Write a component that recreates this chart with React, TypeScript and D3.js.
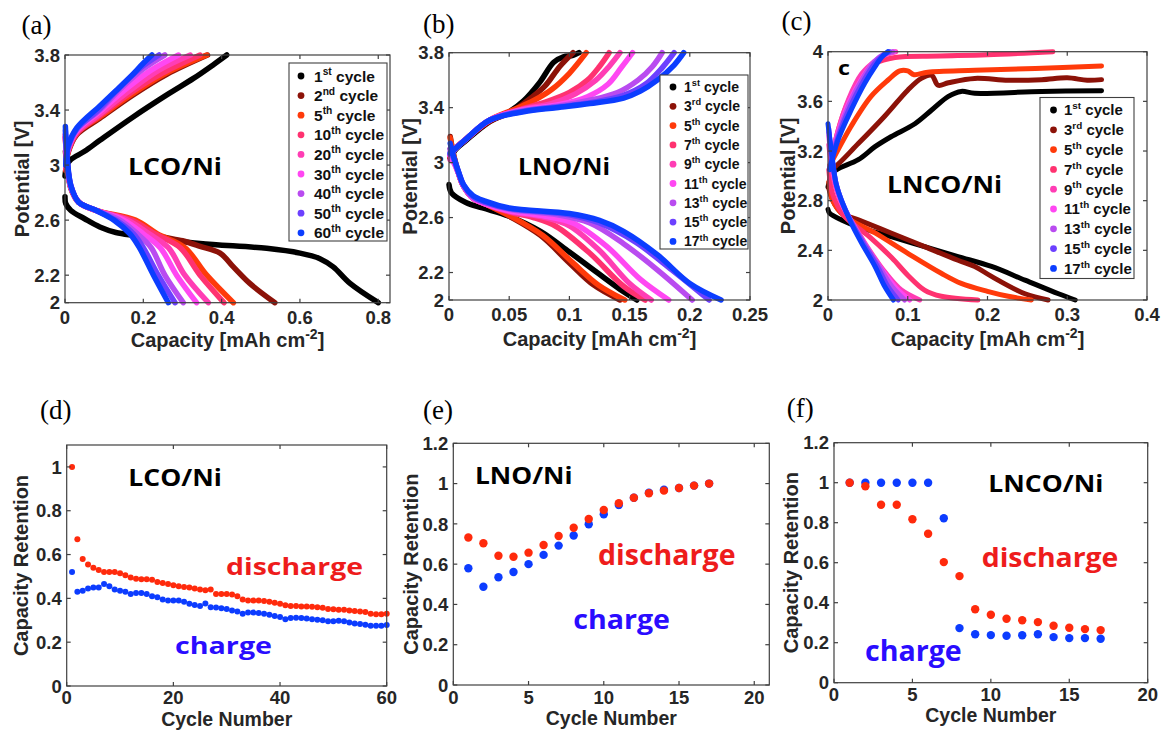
import React from "react";
import * as d3 from "d3";

type Pt = [number, number];

// ---------- colours ----------
const cycleColors = ["#000000", "#8c1208", "#ff3a0a", "#ff3270", "#ff3db4", "#ff47f2", "#b94bf0", "#6c40ff", "#0c3dff"];
const retDischargeColor = "#ff2a0c";
const retChargeColor = "#0c3cff";

// ---------- (a) LCO/Ni voltage profiles ----------
const lcoCycles = ["1st", "2nd", "5th", "10th", "20th", "30th", "40th", "50th", "60th"];
const lcoCharge: Pt[][] = [
  [[0, 2.92], [0.005, 3.0], [0.015, 3.04], [0.05, 3.1], [0.089, 3.18], [0.174, 3.35], [0.26, 3.51], [0.328, 3.63], [0.379, 3.73], [0.413, 3.8]],
  [[0.002, 2.98], [0.008, 3.09], [0.03, 3.22], [0.089, 3.34], [0.174, 3.51], [0.26, 3.66], [0.364, 3.8]],
  [[0.002, 2.96], [0.008, 3.1], [0.03, 3.23], [0.089, 3.35], [0.174, 3.52], [0.26, 3.67], [0.362, 3.8]],
  [[0.002, 2.97], [0.008, 3.1], [0.03, 3.23], [0.089, 3.36], [0.17, 3.53], [0.25, 3.67], [0.345, 3.8]],
  [[0.002, 2.99], [0.008, 3.11], [0.03, 3.24], [0.089, 3.37], [0.16, 3.53], [0.24, 3.69], [0.32, 3.8]],
  [[0.002, 3.0], [0.008, 3.12], [0.03, 3.25], [0.089, 3.39], [0.15, 3.54], [0.22, 3.69], [0.29, 3.8]],
  [[0.002, 3.0], [0.008, 3.12], [0.03, 3.26], [0.089, 3.4], [0.14, 3.55], [0.2, 3.7], [0.255, 3.8]],
  [[0.002, 3.0], [0.008, 3.13], [0.03, 3.26], [0.089, 3.41], [0.135, 3.55], [0.19, 3.7], [0.24, 3.8]],
  [[0.002, 3.0], [0.008, 3.14], [0.03, 3.27], [0.089, 3.43], [0.13, 3.54], [0.17, 3.65], [0.2, 3.74], [0.222, 3.8]],
];
const lcoDischarge: Pt[][] = [
  [[0, 2.77], [0.002, 2.72], [0.015, 2.67], [0.05, 2.61], [0.089, 2.55], [0.13, 2.51], [0.174, 2.49], [0.234, 2.47], [0.345, 2.43], [0.515, 2.395], [0.6, 2.36], [0.651, 2.32], [0.685, 2.26], [0.728, 2.14], [0.8, 2.0]],
  [[0.001, 3.1], [0.006, 2.98], [0.015, 2.83], [0.035, 2.73], [0.1, 2.65], [0.18, 2.56], [0.234, 2.49], [0.3, 2.45], [0.345, 2.41], [0.396, 2.36], [0.43, 2.26], [0.472, 2.14], [0.536, 2.0]],
  [[0.001, 3.2], [0.006, 3.0], [0.015, 2.84], [0.035, 2.73], [0.08, 2.67], [0.18, 2.6], [0.236, 2.5], [0.306, 2.4], [0.362, 2.2], [0.43, 2.0]],
  [[0.001, 3.22], [0.006, 3.0], [0.015, 2.84], [0.035, 2.73], [0.08, 2.67], [0.17, 2.6], [0.23, 2.5], [0.294, 2.4], [0.345, 2.2], [0.406, 2.0]],
  [[0.001, 3.2], [0.006, 3.0], [0.015, 2.84], [0.035, 2.73], [0.08, 2.67], [0.16, 2.6], [0.215, 2.5], [0.264, 2.4], [0.306, 2.2], [0.366, 2.0]],
  [[0.001, 3.2], [0.006, 3.0], [0.015, 2.84], [0.035, 2.73], [0.08, 2.67], [0.15, 2.6], [0.2, 2.5], [0.243, 2.4], [0.285, 2.2], [0.336, 2.0]],
  [[0.001, 3.22], [0.006, 3.01], [0.015, 2.85], [0.035, 2.73], [0.08, 2.67], [0.14, 2.6], [0.185, 2.5], [0.22, 2.4], [0.255, 2.2], [0.302, 2.0]],
  [[0.001, 3.25], [0.006, 3.02], [0.015, 2.85], [0.035, 2.73], [0.08, 2.67], [0.13, 2.6], [0.175, 2.5], [0.2, 2.4], [0.238, 2.2], [0.281, 2.0]],
  [[0.001, 3.28], [0.006, 3.04], [0.015, 2.85], [0.035, 2.73], [0.08, 2.67], [0.125, 2.6], [0.166, 2.5], [0.19, 2.4], [0.226, 2.2], [0.264, 2.0]],
];

// ---------- (b) LNO/Ni voltage profiles ----------
const lnoCycles = ["1st", "3rd", "5th", "7th", "9th", "11th", "13th", "15th", "17th"];
const lnoCharge: Pt[][] = [
  [[0.001, 3.03], [0.005, 3.09], [0.014, 3.16], [0.034, 3.3], [0.05, 3.37], [0.062, 3.45], [0.075, 3.58], [0.087, 3.73], [0.095, 3.77], [0.103, 3.78], [0.108, 3.8]],
  [[0.001, 3.04], [0.005, 3.1], [0.014, 3.17], [0.034, 3.3], [0.052, 3.37], [0.068, 3.47], [0.08, 3.56], [0.092, 3.7], [0.103, 3.8]],
  [[0.001, 3.04], [0.005, 3.1], [0.014, 3.17], [0.034, 3.31], [0.055, 3.39], [0.07, 3.45], [0.085, 3.53], [0.1, 3.65], [0.114, 3.8]],
  [[0.001, 3.05], [0.005, 3.1], [0.014, 3.17], [0.034, 3.31], [0.06, 3.39], [0.08, 3.44], [0.1, 3.51], [0.115, 3.6], [0.125, 3.7], [0.133, 3.8]],
  [[0.001, 3.05], [0.005, 3.1], [0.014, 3.17], [0.034, 3.31], [0.06, 3.385], [0.085, 3.43], [0.105, 3.5], [0.122, 3.6], [0.133, 3.7], [0.142, 3.8]],
  [[0.001, 3.05], [0.005, 3.1], [0.014, 3.17], [0.034, 3.31], [0.062, 3.385], [0.09, 3.42], [0.115, 3.48], [0.132, 3.57], [0.143, 3.69], [0.1525, 3.8]],
  [[0.001, 3.06], [0.005, 3.1], [0.014, 3.17], [0.034, 3.31], [0.062, 3.38], [0.09, 3.41], [0.115, 3.45], [0.14, 3.51], [0.157, 3.6], [0.169, 3.7], [0.177, 3.8]],
  [[0.001, 3.06], [0.005, 3.1], [0.014, 3.17], [0.034, 3.31], [0.062, 3.375], [0.09, 3.405], [0.12, 3.44], [0.145, 3.49], [0.163, 3.57], [0.177, 3.69], [0.187, 3.8]],
  [[0.001, 3.07], [0.005, 3.1], [0.014, 3.17], [0.034, 3.31], [0.062, 3.37], [0.089, 3.4], [0.117, 3.43], [0.145, 3.47], [0.159, 3.52], [0.173, 3.6], [0.187, 3.71], [0.195, 3.8]],
];
const lnoDischarge: Pt[][] = [
  [[0, 2.84], [0.002, 2.78], [0.014, 2.71], [0.028, 2.67], [0.05, 2.61], [0.076, 2.5], [0.1, 2.35], [0.123, 2.2], [0.145, 2.06], [0.156, 2.0]],
  [[0.001, 3.19], [0.004, 3.05], [0.008, 2.92], [0.012, 2.83], [0.02, 2.74], [0.03, 2.7], [0.05, 2.61], [0.076, 2.47], [0.1, 2.27], [0.12, 2.11], [0.142, 2.0]],
  [[0.001, 3.18], [0.004, 3.05], [0.008, 2.92], [0.012, 2.83], [0.02, 2.74], [0.03, 2.7], [0.05, 2.615], [0.078, 2.47], [0.103, 2.27], [0.124, 2.11], [0.146, 2.0]],
  [[0.001, 3.1], [0.004, 3.02], [0.008, 2.92], [0.012, 2.83], [0.02, 2.74], [0.03, 2.7], [0.05, 2.64], [0.07, 2.6], [0.089, 2.535], [0.117, 2.34], [0.145, 2.1], [0.163, 2.0]],
  [[0.001, 3.02], [0.004, 3.0], [0.008, 2.92], [0.012, 2.83], [0.02, 2.74], [0.03, 2.7], [0.05, 2.645], [0.08, 2.6], [0.1, 2.54], [0.125, 2.36], [0.15, 2.12], [0.168, 2.0]],
  [[0.001, 3.05], [0.004, 3.0], [0.008, 2.92], [0.012, 2.83], [0.02, 2.74], [0.03, 2.7], [0.05, 2.65], [0.08, 2.61], [0.103, 2.56], [0.131, 2.39], [0.159, 2.15], [0.1825, 2.0]],
  [[0.001, 3.08], [0.004, 3.02], [0.008, 2.92], [0.012, 2.83], [0.02, 2.75], [0.03, 2.71], [0.05, 2.66], [0.09, 2.62], [0.117, 2.56], [0.145, 2.41], [0.173, 2.22], [0.202, 2.0]],
  [[0.001, 3.1], [0.004, 3.03], [0.008, 2.93], [0.012, 2.84], [0.02, 2.75], [0.03, 2.71], [0.05, 2.665], [0.1, 2.62], [0.125, 2.56], [0.155, 2.42], [0.185, 2.22], [0.216, 2.0]],
  [[0.001, 3.14], [0.004, 3.04], [0.008, 2.93], [0.012, 2.84], [0.02, 2.76], [0.03, 2.72], [0.05, 2.67], [0.1, 2.63], [0.125, 2.58], [0.145, 2.5], [0.173, 2.33], [0.2, 2.12], [0.226, 2.0]],
];

// ---------- (c) LNCO/Ni voltage profiles ----------
const lncoCycles = ["1st", "3rd", "5th", "7th", "9th", "11th", "13th", "15th", "17th"];
const lncoCharge: Pt[][] = [
  [[0, 2.91], [0.004, 3.0], [0.01, 3.047], [0.038, 3.13], [0.059, 3.235], [0.079, 3.315], [0.109, 3.42], [0.13, 3.53], [0.151, 3.64], [0.167, 3.68], [0.184, 3.665], [0.268, 3.68], [0.343, 3.686]],
  [[0.003, 3.06], [0.008, 3.07], [0.038, 3.26], [0.071, 3.48], [0.1, 3.69], [0.117, 3.785], [0.13, 3.81], [0.138, 3.73], [0.151, 3.75], [0.184, 3.785], [0.226, 3.77], [0.268, 3.775], [0.3, 3.79], [0.325, 3.77], [0.343, 3.775]],
  [[0.002, 3.08], [0.006, 3.13], [0.029, 3.4], [0.054, 3.64], [0.075, 3.77], [0.09, 3.845], [0.1, 3.845], [0.108, 3.815], [0.125, 3.835], [0.184, 3.85], [0.26, 3.865], [0.343, 3.885]],
  [[0.002, 3.07], [0.01, 3.3], [0.021, 3.53], [0.042, 3.8], [0.059, 3.906], [0.084, 3.954], [0.14, 3.965], [0.2, 3.975], [0.282, 4.0]],
  [[0.002, 3.06], [0.012, 3.35], [0.026, 3.62], [0.042, 3.82], [0.06, 3.93], [0.074, 3.98], [0.085, 4.0]],
  [[0.002, 3.06], [0.012, 3.33], [0.027, 3.6], [0.044, 3.8], [0.058, 3.92], [0.072, 3.98], [0.083, 4.0]],
  [[0.002, 3.05], [0.012, 3.32], [0.027, 3.58], [0.044, 3.79], [0.058, 3.92], [0.07, 3.98], [0.081, 4.0]],
  [[0.002, 3.05], [0.012, 3.3], [0.028, 3.56], [0.045, 3.77], [0.058, 3.9], [0.069, 3.97], [0.077, 4.0]],
  [[0.002, 3.05], [0.012, 3.28], [0.029, 3.53], [0.046, 3.745], [0.059, 3.88], [0.068, 3.96], [0.075, 4.0]],
];
const lncoDischarge: Pt[][] = [
  [[0, 2.73], [0.002, 2.7], [0.017, 2.645], [0.038, 2.59], [0.079, 2.51], [0.121, 2.43], [0.163, 2.35], [0.205, 2.27], [0.247, 2.16], [0.289, 2.05], [0.31, 2.0]],
  [[0.001, 2.9], [0.006, 2.8], [0.017, 2.7], [0.038, 2.645], [0.079, 2.54], [0.121, 2.43], [0.163, 2.32], [0.184, 2.27], [0.205, 2.19], [0.247, 2.05], [0.276, 2.0]],
  [[0.001, 2.95], [0.006, 2.8], [0.02, 2.68], [0.059, 2.54], [0.1, 2.376], [0.142, 2.215], [0.167, 2.134], [0.2, 2.07], [0.226, 2.03], [0.255, 2.0]],
  [[0.001, 3.05], [0.006, 2.85], [0.02, 2.68], [0.05, 2.52], [0.08, 2.34], [0.1, 2.2], [0.121, 2.08], [0.142, 2.03], [0.188, 2.0]],
  [[0.001, 3.25], [0.005, 3.05], [0.01, 2.9], [0.018, 2.76], [0.033, 2.6], [0.05, 2.42], [0.072, 2.22], [0.092, 2.08], [0.115, 2.0]],
  [[0.001, 3.32], [0.005, 3.1], [0.01, 2.93], [0.018, 2.77], [0.032, 2.6], [0.048, 2.43], [0.068, 2.24], [0.085, 2.1], [0.1025, 2.0]],
  [[0.001, 3.35], [0.005, 3.15], [0.01, 2.94], [0.018, 2.78], [0.031, 2.61], [0.046, 2.45], [0.065, 2.26], [0.08, 2.11], [0.096, 2.0]],
  [[0.001, 3.38], [0.004, 3.2], [0.01, 2.94], [0.017, 2.8], [0.03, 2.62], [0.044, 2.46], [0.062, 2.27], [0.075, 2.11], [0.088, 2.0]],
  [[0, 3.42], [0.004, 3.21], [0.01, 2.94], [0.017, 2.8], [0.029, 2.62], [0.042, 2.46], [0.059, 2.27], [0.071, 2.11], [0.082, 2.0]],
];

// ---------- (d) LCO/Ni retention ----------
const lcoRetCycles = d3.range(1, 61);
const lcoRetDischarge = [
  1.0, 0.67, 0.58, 0.555, 0.54, 0.53, 0.52, 0.52, 0.52, 0.515,
  0.505, 0.495, 0.49, 0.487, 0.487, 0.485, 0.475, 0.47, 0.465, 0.46,
  0.455, 0.452, 0.45, 0.445, 0.44, 0.437, 0.44, 0.42, 0.42, 0.42,
  0.418, 0.41, 0.395, 0.39, 0.39, 0.39, 0.388, 0.385, 0.38, 0.375,
  0.368, 0.365, 0.365, 0.363, 0.363, 0.362, 0.36, 0.357, 0.352, 0.35,
  0.348, 0.348, 0.345, 0.342, 0.34, 0.338, 0.33, 0.327, 0.327, 0.33,
];
const lcoRetCharge = [
  0.52, 0.43, 0.435, 0.445, 0.45, 0.45, 0.465, 0.455, 0.44, 0.435,
  0.43, 0.42, 0.425, 0.425, 0.42, 0.41, 0.405, 0.395, 0.39, 0.39,
  0.39, 0.385, 0.375, 0.37, 0.365, 0.377, 0.36, 0.358, 0.355, 0.352,
  0.345, 0.34, 0.33, 0.335, 0.335, 0.333, 0.33, 0.325, 0.32, 0.315,
  0.305, 0.31, 0.312, 0.31, 0.308, 0.305, 0.302, 0.3, 0.295, 0.295,
  0.298, 0.295, 0.29, 0.285, 0.283, 0.28, 0.275, 0.275, 0.275, 0.278,
];

// ---------- (e) LNO/Ni retention ----------
const lnoRetCycles = d3.range(1, 18);
const lnoRetDischarge = [0.732, 0.704, 0.642, 0.637, 0.657, 0.695, 0.74, 0.781, 0.824, 0.869, 0.902, 0.93, 0.952, 0.965, 0.978, 0.99, 1.0];
const lnoRetCharge = [0.58, 0.488, 0.535, 0.561, 0.6, 0.646, 0.692, 0.742, 0.798, 0.848, 0.894, 0.93, 0.955, 0.97, 0.978, 0.99, 1.0];

// ---------- (f) LNCO/Ni retention ----------
const lncoRetCycles = d3.range(1, 18);
const lncoRetDischarge = [1.0, 0.982, 0.89, 0.89, 0.817, 0.745, 0.603, 0.533, 0.367, 0.34, 0.32, 0.312, 0.303, 0.285, 0.275, 0.268, 0.263];
const lncoRetCharge = [1.0, 1.0, 1.0, 1.0, 1.0, 1.0, 0.822, 0.273, 0.242, 0.238, 0.235, 0.237, 0.242, 0.228, 0.223, 0.223, 0.22];

// ---------- tick values ----------
const ticksVoltA = [2, 2.2, 2.6, 3, 3.4, 3.8];
const ticksCapA = [0, 0.2, 0.4, 0.6, 0.8];
const ticksVoltB = [2, 2.2, 2.6, 3, 3.4, 3.8];
const ticksCapB = [0, 0.05, 0.1, 0.15, 0.2, 0.25];
const ticksVoltC = [2, 2.4, 2.8, 3.2, 3.6, 4];
const ticksCapC = [0, 0.1, 0.2, 0.3, 0.4];
const ticksRetD = [0, 0.2, 0.4, 0.6, 0.8, 1];
const ticksCycD = [0, 20, 40, 60];
const ticksRetEF = [0, 0.2, 0.4, 0.6, 0.8, 1, 1.2];
const ticksCycEF = [0, 5, 10, 15, 20];

// ---------- helpers ----------
const tickFont = "'Liberation Sans', Arial, Helvetica, sans-serif";
const bigFont = "'Open Sans', 'Noto Sans', sans-serif";
const axisInk = "#262626";
const fmt = (v: number) => String(+v.toFixed(2));

interface Frame {
  left: number; right: number; top: number; bottom: number;
  xDomain: [number, number]; yDomain: [number, number];
}

function scales(f: Frame) {
  const x = d3.scaleLinear().domain(f.xDomain).range([f.left, f.right]);
  const y = d3.scaleLinear().domain(f.yDomain).range([f.bottom, f.top]);
  return { x, y };
}

function AxesBox({ f, xTicks, yTicks, xLabelDy }: { f: Frame; xTicks: number[]; yTicks: number[]; xLabelDy: number }) {
  const { x, y } = scales(f);
  const tl = 4;
  return (
    <g>
      <rect x={f.left} y={f.top} width={f.right - f.left} height={f.bottom - f.top} fill="none" stroke="#404040" strokeWidth={1.2} />
      {xTicks.map((t) => (
        <g key={"x" + t}>
          <line x1={x(t)} x2={x(t)} y1={f.bottom} y2={f.bottom - tl} stroke="#404040" strokeWidth={1.2} />
          <line x1={x(t)} x2={x(t)} y1={f.top} y2={f.top + tl} stroke="#404040" strokeWidth={1.2} />
          <text x={x(t)} y={f.bottom + xLabelDy} textAnchor="middle" fontFamily={tickFont} fontWeight="bold" fontSize={18.5} fill={axisInk}>{fmt(t)}</text>
        </g>
      ))}
      {yTicks.map((t) => (
        <g key={"y" + t}>
          <line x1={f.left} x2={f.left + tl} y1={y(t)} y2={y(t)} stroke="#404040" strokeWidth={1.2} />
          <line x1={f.right} x2={f.right - tl} y1={y(t)} y2={y(t)} stroke="#404040" strokeWidth={1.2} />
          <text x={f.left - 5} y={y(t)} dy="0.36em" textAnchor="end" fontFamily={tickFont} fontWeight="bold" fontSize={18.5} fill={axisInk}>{fmt(t)}</text>
        </g>
      ))}
    </g>
  );
}

function Curves({ f, charge, discharge, width }: { f: Frame; charge: Pt[][]; discharge: Pt[][]; width: number }) {
  const { x, y } = scales(f);
  const line = d3.line<Pt>().x((d) => x(d[0])).y((d) => y(d[1])).curve(d3.curveCatmullRom.alpha(0.5));
  return (
    <g fill="none" strokeLinecap="round" strokeLinejoin="round">
      {charge.map((c, i) => (
        <g key={i}>
          <path d={line(discharge[i]) || ""} stroke={cycleColors[i]} strokeWidth={width} />
          <path d={line(c) || ""} stroke={cycleColors[i]} strokeWidth={width} />
        </g>
      ))}
    </g>
  );
}

function Legend({ x, y, w, h, first, step, mx, tx, fs, labels }: { x: number; y: number; w: number; h: number; first: number; step: number; mx: number; tx: number; fs: number; labels: string[] }) {
  return (
    <g>
      <rect x={x} y={y} width={w} height={h} fill="#fff" stroke="#404040" strokeWidth={1.1} />
      {labels.map((lab, i) => {
        const m = lab.match(/^(\d+)(\D+)$/);
        const num = m ? m[1] : lab;
        const suf = m ? m[2] : "";
        const cy = first + i * step;
        return (
          <g key={lab}>
            <circle cx={mx} cy={cy} r={3.4} fill={cycleColors[i]} />
            <text x={tx} y={cy + fs * 0.36} fontFamily={tickFont} fontWeight="bold" fontSize={fs} fill="#111">
              {num}
              <tspan fontSize={fs * 0.66} dy={-fs * 0.42}>{suf}</tspan>
              <tspan dy={fs * 0.42}>{" cycle"}</tspan>
            </text>
          </g>
        );
      })}
    </g>
  );
}

function Scatter({ f, xs, ys, color, r }: { f: Frame; xs: number[]; ys: number[]; color: string; r: number }) {
  const { x, y } = scales(f);
  return (
    <g>
      {xs.map((c, i) => (
        <circle key={i} cx={x(c)} cy={y(ys[i])} r={r} fill={color} />
      ))}
    </g>
  );
}

function YTitle({ cx, cy, text }: { cx: number; cy: number; text: string }) {
  return (
    <text transform={`translate(${cx},${cy}) rotate(-90)`} dy="0.36em" textAnchor="middle" fontFamily={tickFont} fontWeight="bold" fontSize={20} fill={axisInk}>
      {text}
    </text>
  );
}

function CapTitle({ cx, y }: { cx: number; y: number }) {
  return (
    <text x={cx} y={y} textAnchor="middle" fontFamily={tickFont} fontWeight="bold" fontSize={20} fill={axisInk}>
      {"Capacity [mAh cm"}
      <tspan fontSize={14} dy={-8}>-2</tspan>
      <tspan dy={8}>]</tspan>
    </text>
  );
}

function CycTitle({ cx, y }: { cx: number; y: number }) {
  return (
    <text x={cx} y={y} textAnchor="middle" fontFamily={tickFont} fontWeight="bold" fontSize={19.5} fill={axisInk}>
      Cycle Number
    </text>
  );
}

function PanelLabel({ x, y, text }: { x: number; y: number; text: string }) {
  return (
    <text x={x} y={y} fontFamily="'Liberation Serif', 'Times New Roman', serif" fontSize={27} fill="#000">
      {text}
    </text>
  );
}

function Big({ x, y, text, size, len, color }: { x: number; y: number; text: string; size: number; len: number; color: string }) {
  return (
    <text x={x} y={y} fontFamily={bigFont} fontWeight="bold" fontSize={size} fill={color} textLength={len} lengthAdjust="spacingAndGlyphs">
      {text}
    </text>
  );
}

// ---------- frames ----------
const fA: Frame = { left: 65, right: 390, top: 55, bottom: 302.7, xDomain: [0, 0.83], yDomain: [2, 3.8] };
const fB: Frame = { left: 449, right: 750, top: 52.7, bottom: 300, xDomain: [0, 0.25], yDomain: [2, 3.8] };
const fC: Frame = { left: 828, right: 1147, top: 51.7, bottom: 300, xDomain: [0, 0.4], yDomain: [2, 4] };
const fD: Frame = { left: 66.7, right: 386.7, top: 445, bottom: 686, xDomain: [0, 60], yDomain: [0, 1.1] };
const fE: Frame = { left: 453.3, right: 769.3, top: 443.3, bottom: 685, xDomain: [0, 21], yDomain: [0, 1.2] };
const fF: Frame = { left: 834, right: 1147.7, top: 442.7, bottom: 682.7, xDomain: [0, 20], yDomain: [0, 1.2] };

const red = "#ee1c1c";
const blue = "#2a0cff";

export default function App() {
  return (
    <svg width={1162} height={730} viewBox="0 0 1162 730" style={{ position: "absolute", left: 0, top: 0, background: "#fff" }}>
      <rect x={0} y={0} width={1162} height={730} fill="#fff" />

      {/* (a) */}
      <PanelLabel x={21.5} y={33.5} text="(a)" />
      <Curves f={fA} charge={lcoCharge} discharge={lcoDischarge} width={5.5} />
      <AxesBox f={fA} xTicks={ticksCapA} yTicks={ticksVoltA} xLabelDy={21} />
      <Legend x={289} y={63} w={98} h={178} first={76} step={19.6} mx={301} tx={314} fs={15.5} labels={lcoCycles} />
      <Big x={128} y={174.5} text="LCO/Ni" size={24} len={94} color="#000" />
      <YTitle cx={22} cy={(fA.top + fA.bottom) / 2} text="Potential [V]" />
      <CapTitle cx={(fA.left + fA.right) / 2} y={346.5} />

      {/* (b) */}
      <PanelLabel x={423} y={32.5} text="(b)" />
      <Curves f={fB} charge={lnoCharge} discharge={lnoDischarge} width={5.5} />
      <AxesBox f={fB} xTicks={ticksCapB} yTicks={ticksVoltB} xLabelDy={21} />
      <Legend x={660} y={75} w={88} h={174} first={87} step={19.3} mx={673} tx={684} fs={14} labels={lnoCycles} />
      <Big x={518} y={175} text="LNO/Ni" size={24} len={92} color="#000" />
      <YTitle cx={410} cy={(fB.top + fB.bottom) / 2} text="Potential [V]" />
      <CapTitle cx={(fB.left + fB.right) / 2} y={346} />

      {/* (c) */}
      <PanelLabel x={781.5} y={30} text="(c)" />
      <Curves f={fC} charge={lncoCharge} discharge={lncoDischarge} width={5} />
      <AxesBox f={fC} xTicks={ticksCapC} yTicks={ticksVoltC} xLabelDy={21} />
      <Legend x={1040} y={97.5} w={94} h={181} first={110} step={19.8} mx={1053.5} tx={1064} fs={15} labels={lncoCycles} />
      <Big x={838} y={75} text="c" size={20} len={12} color="#000" />
      <Big x={887} y={192.5} text="LNCO/Ni" size={23} len={115} color="#000" />
      <YTitle cx={788} cy={(fC.top + fC.bottom) / 2} text="Potential [V]" />
      <CapTitle cx={(fC.left + fC.right) / 2} y={346} />

      {/* (d) */}
      <PanelLabel x={40} y={418.5} text="(d)" />
      <Scatter f={fD} xs={lcoRetCycles} ys={lcoRetCharge} color={retChargeColor} r={3} />
      <Scatter f={fD} xs={lcoRetCycles} ys={lcoRetDischarge} color={retDischargeColor} r={3} />
      <AxesBox f={fD} xTicks={ticksCycD} yTicks={ticksRetD} xLabelDy={18} />
      <Big x={128.3} y={486} text="LCO/Ni" size={23.5} len={93.5} color="#000" />
      <Big x={226} y={575} text="discharge" size={23.3} len={137} color={red} />
      <Big x={175} y={654} text="charge" size={22.7} len={97} color={blue} />
      <YTitle cx={21} cy={(fD.top + fD.bottom) / 2} text="Capacity Retention" />
      <CycTitle cx={(fD.left + fD.right) / 2} y={725.5} />

      {/* (e) */}
      <PanelLabel x={423} y={418.5} text="(e)" />
      <Scatter f={fE} xs={lnoRetCycles} ys={lnoRetCharge} color={retChargeColor} r={4.2} />
      <Scatter f={fE} xs={lnoRetCycles} ys={lnoRetDischarge} color={retDischargeColor} r={4.2} />
      <AxesBox f={fE} xTicks={ticksCycEF} yTicks={ticksRetEF} xLabelDy={18.5} />
      <Big x={475} y={484} text="LNO/Ni" size={24} len={97.5} color="#000" />
      <Big x={598} y={564.5} text="discharge" size={28} len={137.5} color={red} />
      <Big x={573.3} y={628.5} text="charge" size={26.7} len={96.7} color={blue} />
      <YTitle cx={411} cy={(fE.top + fE.bottom) / 2} text="Capacity Retention" />
      <CycTitle cx={(fE.left + fE.right) / 2} y={724.5} />

      {/* (f) */}
      <PanelLabel x={786.7} y={417} text="(f)" />
      <Scatter f={fF} xs={lncoRetCycles} ys={lncoRetCharge} color={retChargeColor} r={4.2} />
      <Scatter f={fF} xs={lncoRetCycles} ys={lncoRetDischarge} color={retDischargeColor} r={4.2} />
      <AxesBox f={fF} xTicks={ticksCycEF} yTicks={ticksRetEF} xLabelDy={18.5} />
      <Big x={988.3} y={492} text="LNCO/Ni" size={24} len={115} color="#000" />
      <Big x={981.7} y={567.4} text="discharge" size={27.3} len={136.7} color={red} />
      <Big x={865} y={660.6} text="charge" size={28} len={96.7} color={blue} />
      <YTitle cx={791} cy={(fF.top + fF.bottom) / 2} text="Capacity Retention" />
      <CycTitle cx={(fF.left + fF.right) / 2} y={722} />
    </svg>
  );
}
